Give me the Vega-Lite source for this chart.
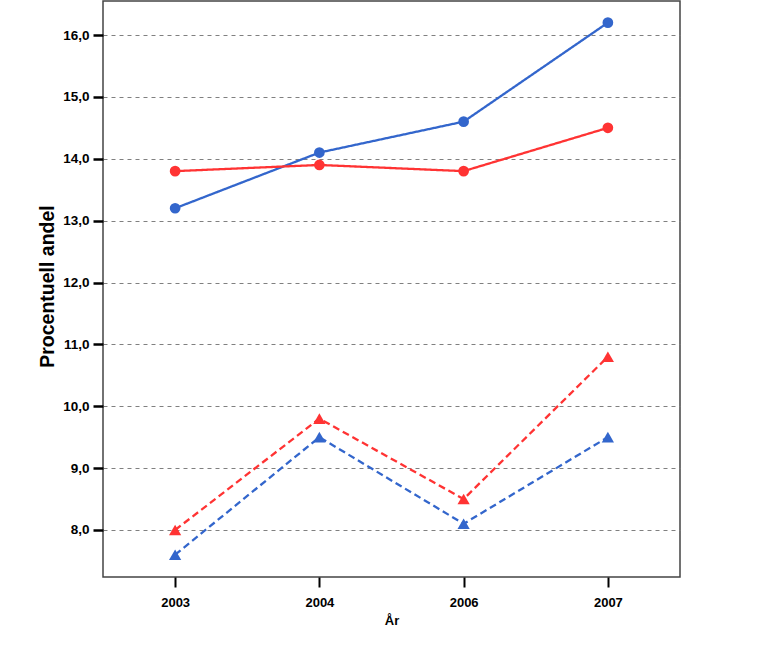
{
  "$schema": "https://vega.github.io/schema/vega-lite/v6.json",
  "autosize": {"type": "none"},
  "width": 577,
  "height": 576,
  "padding": {"left": 103, "top": 1, "right": 93, "bottom": 93},
  "background": "white",
  "config": {
    "view": {"stroke": "#444444", "strokeWidth": 1.5},
    "font": "Liberation Sans"
  },
  "data": {
    "values": [
      {"år": "2003", "andel": 13.2, "grupp": "B", "mått": "M1"},
      {"år": "2004", "andel": 14.1, "grupp": "B", "mått": "M1"},
      {"år": "2006", "andel": 14.6, "grupp": "B", "mått": "M1"},
      {"år": "2007", "andel": 16.2, "grupp": "B", "mått": "M1"},
      {"år": "2003", "andel": 13.8, "grupp": "R", "mått": "M1"},
      {"år": "2004", "andel": 13.9, "grupp": "R", "mått": "M1"},
      {"år": "2006", "andel": 13.8, "grupp": "R", "mått": "M1"},
      {"år": "2007", "andel": 14.5, "grupp": "R", "mått": "M1"},
      {"år": "2003", "andel": 8.0, "grupp": "R", "mått": "M2"},
      {"år": "2004", "andel": 9.8, "grupp": "R", "mått": "M2"},
      {"år": "2006", "andel": 8.5, "grupp": "R", "mått": "M2"},
      {"år": "2007", "andel": 10.8, "grupp": "R", "mått": "M2"},
      {"år": "2003", "andel": 7.6, "grupp": "B", "mått": "M2"},
      {"år": "2004", "andel": 9.5, "grupp": "B", "mått": "M2"},
      {"år": "2006", "andel": 8.1, "grupp": "B", "mått": "M2"},
      {"år": "2007", "andel": 9.5, "grupp": "B", "mått": "M2"}
    ]
  },
  "encoding": {
    "x": {
      "field": "år", "type": "ordinal",
      "scale": {"type": "point", "padding": 0.5},
      "axis": {
        "title": "År", "labelAngle": 0, "grid": false, "domain": false,
        "tickColor": "black", "tickWidth": 2, "tickSize": 10,
        "labelFont": "Liberation Sans", "labelFontSize": 13, "labelFontWeight": "bold", "labelColor": "black",
        "labelPadding": 9,
        "titleFont": "Liberation Sans", "titleFontSize": 13, "titleFontWeight": "bold", "titleColor": "black",
        "titlePadding": 5
      }
    },
    "y": {
      "field": "andel", "type": "quantitative",
      "scale": {"domain": [7.24, 16.55], "nice": false, "zero": false},
      "axis": {
        "title": "Procentuell andel",
        "values": [8, 9, 10, 11, 12, 13, 14, 15, 16],
        "labelExpr": "replace(format(datum.value, '.1f'), '.', ',')",
        "grid": true, "gridColor": "#808080", "gridDash": [4, 4], "gridWidth": 1, "gridOpacity": 1,
        "domain": false,
        "tickColor": "black", "tickWidth": 2.5, "tickSize": 10,
        "labelFont": "Liberation Sans", "labelFontSize": 13.5, "labelFontWeight": "bold", "labelColor": "black",
        "labelPadding": 4,
        "titleFont": "Liberation Sans", "titleFontSize": 19.5, "titleFontWeight": "bold", "titleColor": "black",
        "titleAngle": -90, "titleX": -56, "titleY": 285, "titleAlign": "center", "titleBaseline": "middle"
      }
    },
    "color": {
      "field": "grupp", "type": "nominal",
      "scale": {"domain": ["B", "R"], "range": ["#3366cc", "#ff3333"]},
      "legend": null
    }
  },
  "layer": [
    {
      "mark": {"type": "line", "strokeWidth": 2.3},
      "encoding": {
        "detail": {"field": "mått"},
        "strokeDash": {
          "field": "mått", "type": "nominal",
          "scale": {"domain": ["M1", "M2"], "range": [[1, 0], [7, 4]]},
          "legend": null
        }
      }
    },
    {
      "mark": {"type": "point", "filled": true, "opacity": 1},
      "encoding": {
        "shape": {
          "field": "mått", "type": "nominal",
          "scale": {"domain": ["M1", "M2"], "range": ["circle", "triangle-up"]},
          "legend": null
        },
        "size": {
          "field": "mått", "type": "nominal",
          "scale": {"domain": ["M1", "M2"], "range": [115, 150]},
          "legend": null
        }
      }
    }
  ]
}
